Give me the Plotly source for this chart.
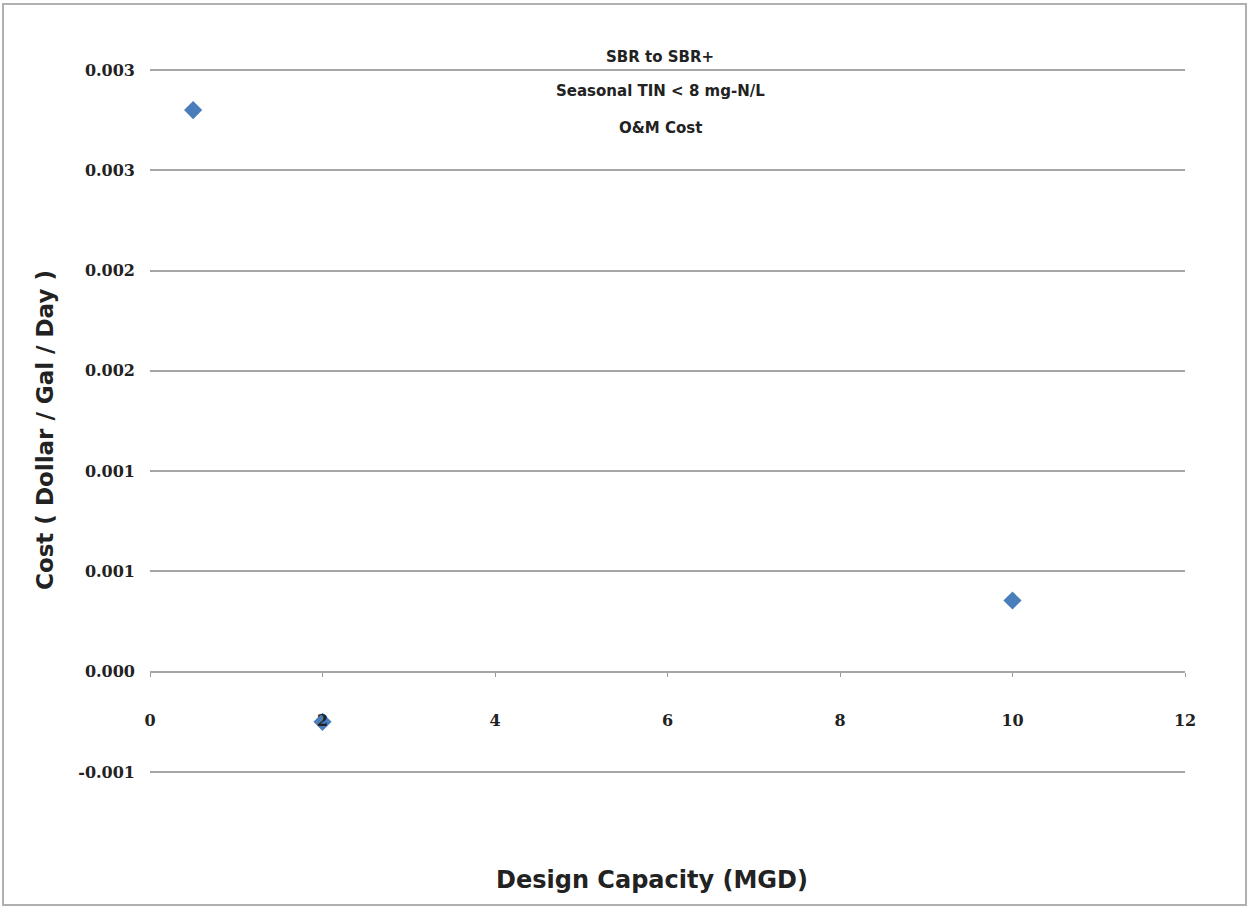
import plotly.graph_objects as go

# Data
capacity_mgd = [0.5, 2, 10]
cost = [0.0028, -0.00025, 0.000355]

x_tick_vals = [0, 2, 4, 6, 8, 10, 12]
x_tick_text = ["0", "2", "4", "6", "8", "10", "12"]
y_tick_vals = [-0.0005, 0.0, 0.0005, 0.001, 0.0015, 0.002, 0.0025, 0.003]
y_tick_text = ["-0.001", "0.000", "0.001", "0.001", "0.002", "0.002", "0.003", "0.003"]

title_lines = ["SBR to SBR+", "Seasonal TIN < 8 mg-N/L", "O&M Cost"]
x_title = "Design Capacity (MGD)"
y_title = "Cost ( Dollar / Gal / Day )"

W, H = 1249, 909
PAD = 5
L, R, T, B = 150, 64, 70 - PAD, 137 - PAD
pw, ph = W - L - R, H - T - B

def px(x):
    return (x - L) / pw

def py(y):
    return (H - B - y) / ph

span = 0.0035
eps = PAD * span / (ph - 2 * PAD)
ymin, ymax = -0.0005 - eps, 0.003 + eps

fig = go.Figure()
fig.add_trace(go.Scatter(
    x=capacity_mgd, y=cost, mode="markers",
    marker=dict(symbol="diamond", size=14, color="#4a7ebb",
                line=dict(width=0)),
    showlegend=False, cliponaxis=False,
))

tick_font = dict(family="DejaVu Serif", size=16, color="#222222", weight="bold")

fig.update_layout(
    width=W, height=H,
    margin=dict(l=L, r=R, t=T, b=B),
    paper_bgcolor="white", plot_bgcolor="white",
    xaxis=dict(
        range=[0, 12], tickvals=x_tick_vals, ticktext=x_tick_text,
        showgrid=False, zeroline=False, showline=False,
        anchor="free", position=(0 - ymin) / (ymax - ymin),
        ticks="outside", ticklen=4, tickcolor="#999999", tickwidth=1,
        ticklabelstandoff=30,
        tickfont=tick_font,
    ),
    yaxis=dict(
        range=[ymin, ymax], tickvals=y_tick_vals, ticktext=y_tick_text,
        showgrid=True, gridcolor="#a6a6a6", gridwidth=2,
        zeroline=False, showline=False, ticks="",
        ticklabelstandoff=14,
        tickfont=tick_font,
    ),
)

# title lines
title_y = [57, 91, 128]
for txt, yy in zip(title_lines, title_y):
    fig.add_annotation(
        text=txt,
        x=px(660), y=py(yy), xref="paper", yref="paper",
        showarrow=False, xanchor="center", yanchor="middle",
        font=dict(family="DejaVu Sans", size=15, color="#222222", weight="bold"),
    )

fig.add_annotation(
    text=x_title, x=px(652), y=py(880), xref="paper", yref="paper",
    showarrow=False, xanchor="center", yanchor="middle",
    font=dict(family="DejaVu Sans", size=24, color="#222222", weight="bold"),
)
fig.add_annotation(
    text=y_title, x=px(45), y=py(430), xref="paper", yref="paper",
    showarrow=False, xanchor="center", yanchor="middle", textangle=-90,
    font=dict(family="DejaVu Sans", size=23, color="#222222", weight="bold"),
)

# outer chart border
fig.add_shape(
    type="rect", xref="paper", yref="paper",
    x0=px(3), x1=px(1246), y0=py(905), y1=py(4),
    line=dict(color="#b0b0b0", width=2), fillcolor="rgba(0,0,0,0)",
    layer="below",
)

fig.write_html("out.html", config={"displayModeBar": False},
               post_script="document.body.style.margin='0';")
